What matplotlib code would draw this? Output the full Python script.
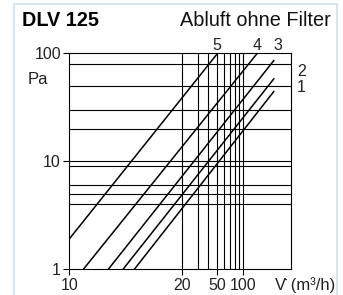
import numpy as np
import matplotlib
matplotlib.use("Agg")
import matplotlib.pyplot as plt
from matplotlib.patches import Rectangle

plt.rcParams['font.family'] = ['Liberation Sans', 'DejaVu Sans']

# curves: (V start, dp start) -> (V end, dp end)
curve_names = ["5", "4", "3", "2", "1"]
curve_v = [[10, 51], [10.9, 146], [12.7, 229], [13.9, 229], [14.9, 229]]
curve_dp = [[1.91, 100], [1, 100], [1, 86.7], [1, 58.7], [1, 44.8]]

y_ticks = [1, 10, 100]
y_grid = [4, 5, 6, 9, 10, 20, 30, 50, 80]
x_ticks = [10, 20, 50, 100]
x_grid = [20, 30, 40, 50, 60, 70, 80, 90, 100]

W, H = 343, 295

# the V axis of the original is squashed: 10..20 gets more room than 20..100
A = 113.0   # px for 10 -> 20
B = 86.8    # px per decade above 20


def fwd(x):
    x = np.asarray(x, dtype=float)
    x = np.clip(x, 1e-9, None)
    lo = np.log10(x / 10) / np.log10(2) * A
    hi = A + np.log10(x / 20) * B
    return np.where(x <= 20, lo, hi)


def inv(p):
    p = np.asarray(p, dtype=float)
    lo = 10 * 2 ** (p / A)
    hi = 20 * 10 ** ((p - A) / B)
    return np.where(p <= A, lo, hi)


def fx(x):
    return x / W


def fy(y):
    return 1 - y / H


fig = plt.figure(figsize=(W / 100, H / 100), dpi=100)

# light blue frame round the whole picture
fig.patches.append(Rectangle((fx(13.8), fy(320)), fx(337) - fx(13.8), fy(4.3) - fy(320),
                             transform=fig.transFigure, fill=False,
                             edgecolor='#cfe0ef', lw=1.2))

left, right, top, bottom = 69.3, 291.3, 53.3, 269.3
ax = fig.add_axes([fx(left), fy(bottom), fx(right) - fx(left), fy(top) - fy(bottom)])
ax.set_xscale('function', functions=(fwd, inv))
ax.set_yscale('log')
ax.set_xlim(10, 360)
ax.set_ylim(1, 100)

for g in y_grid:
    ax.axhline(g, color='black', lw=0.8, zorder=1)
for g in x_grid:
    ax.axvline(g, color='black', lw=0.8, zorder=1)

for v, dp in zip(curve_v, curve_dp):
    ax.plot(v, dp, color='black', lw=1.1, solid_capstyle='butt', zorder=2)

ax.set_yticks(y_ticks)
ax.set_yticklabels([str(t) for t in y_ticks])
ax.set_xticks(x_ticks)
ax.set_xticklabels([str(t) for t in x_ticks])
ax.minorticks_off()
ax.tick_params(axis='both', direction='out', length=4, width=0.8, labelsize=11.5,
               labelcolor='#222222', pad=2)
for s in ax.spines.values():
    s.set_linewidth(0.8)

fig.text(fx(22), fy(20), "DLV 125", fontsize=14.3, fontweight='bold', va='center', ha='left')
fig.text(fx(331), fy(20), "Abluft ohne Filter", fontsize=14.3, va='center', ha='right',
         color='#111111')
fig.text(fx(28), fy(80), "Pa", fontsize=12, va='center', ha='left', color='#222222')
fig.text(fx(275), fy(285), "V\u0307 (m\u00b3/h)", fontsize=12, va='center', ha='left',
         color='#222222')

label_pos = {"5": (217, 45), "4": (257.5, 45), "3": (277.5, 45), "2": (301.5, 71), "1": (301.5, 87)}
for name in curve_names:
    px, py = label_pos[name]
    fig.text(fx(px), fy(py), name, fontsize=11.5, va='center', ha='center', color='#222222')

fig.savefig("out.png", dpi=100)
